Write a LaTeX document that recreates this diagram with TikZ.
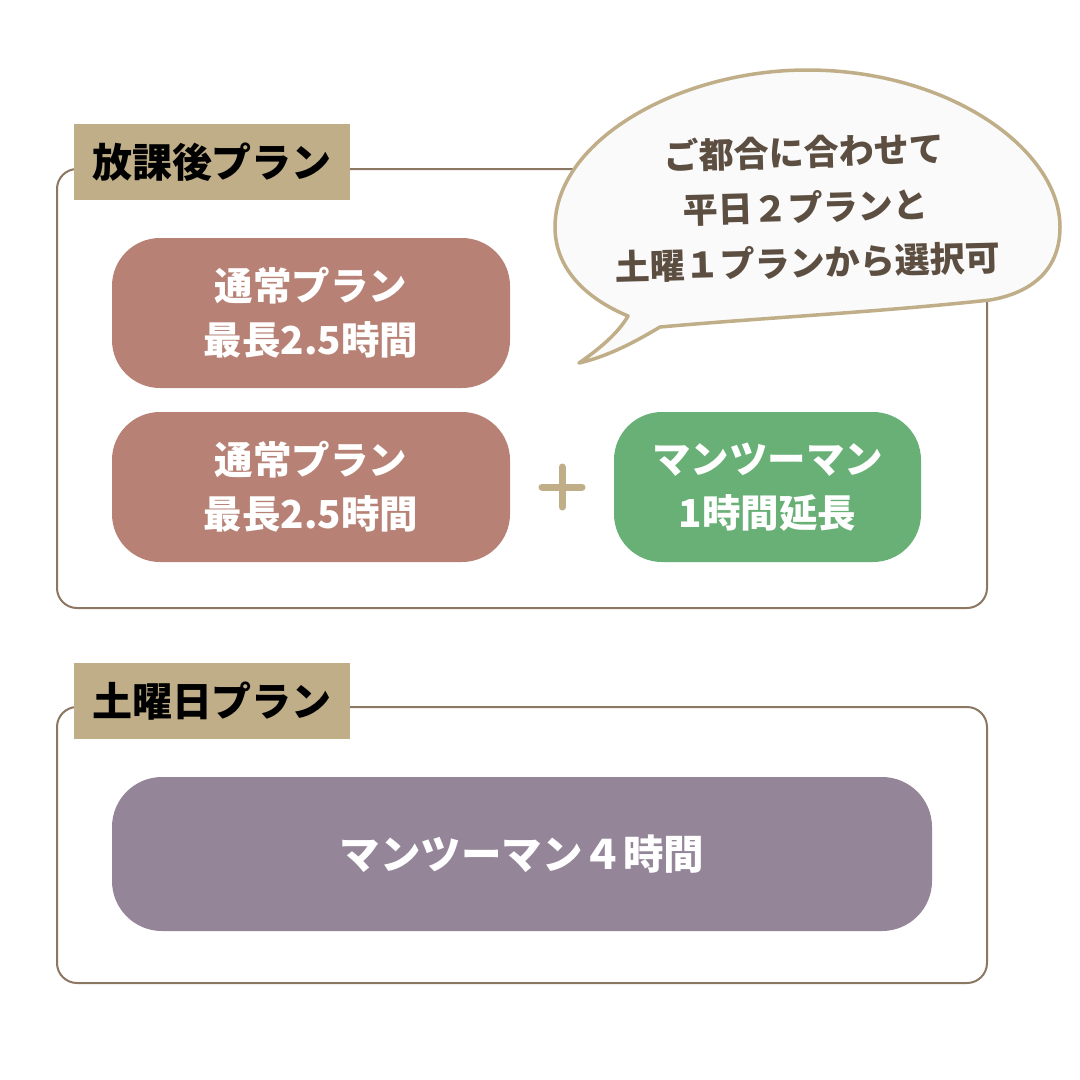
\documentclass[tikz,border=0pt]{standalone}
\usepackage{fontspec}
\setmainfont{Noto Sans CJK JP}
\definecolor{frame}{HTML}{8B7762}
\definecolor{tan}{HTML}{BFAE87}
\definecolor{rose}{HTML}{B78275}
\definecolor{leaf}{HTML}{69B077}
\definecolor{lilac}{HTML}{948599}
\definecolor{ink}{HTML}{5C4E41}
\definecolor{bubblefill}{HTML}{FAFAFA}
\tikzset{
  group/.style={draw=frame, line width=2pt, rounded corners=20pt, fill=white, minimum width=930pt, inner sep=0pt},
  tag/.style={fill=tan, minimum width=276pt, minimum height=76pt, inner sep=0pt, font=\fontsize{40}{48}\selectfont\bfseries, text=black},
  planbox/.style={rounded corners=48pt, inner sep=0pt, text=white, align=center, font=\fontsize{38.5}{54}\selectfont\bfseries},
  bubbletext/.style={text=ink, align=center, font=\fontsize{35}{55}\selectfont\bfseries}
}
\begin{document}
\begin{tikzpicture}[x=1pt,y=-1pt]
\useasboundingbox[fill=white] (0,0) rectangle (1080,1080);
% group 1
\node[group, minimum height=439pt] (g1) at (522,388.5) {};
\node[tag] (t1) at (212,162) {放課後プラン};
\node[planbox, fill=rose, minimum width=398pt, minimum height=150pt] (p1) at (311,313) {通常プラン\\最長2.5時間};
\node[planbox, fill=rose, minimum width=398pt, minimum height=150pt] (p2) at (311,487) {通常プラン\\最長2.5時間};
\node[planbox, fill=leaf, minimum width=307pt, minimum height=150pt] (p3) at (767.5,487) {マンツーマン\\1時間延長};
\coordinate (plus) at (562,487);
\draw[tan, line width=7pt, line cap=round] ([xshift=-20pt]plus) -- ([xshift=20pt]plus);
\draw[tan, line width=7pt, line cap=round] ([yshift=-20pt]plus) -- ([yshift=20pt]plus);
% speech bubble
\draw[draw=tan, fill=bubblefill, line width=3.5pt, line join=round]
  (579,363) .. controls (605,345) and (620,330) .. (628,316)
  .. controls (585,298) and (555,268) .. (555,227)
  .. controls (555,140) and (680,70) .. (807,70)
  .. controls (950,70) and (1060,150) .. (1060,227)
  .. controls (1060,275) and (1025,294) .. (990,300)
  .. controls (880,312) and (760,318) .. (660,327)
  .. controls (630,345) and (605,357) .. (579,363) -- cycle;
\node[bubbletext, rotate=1.5] (bt) at (806,207) {ご都合に合わせて\\平日２プランと\\土曜１プランから選択可};
% group 2
\node[group, minimum height=276pt] (g2) at (522,845) {};
\node[tag] (t2) at (212,701) {土曜日プラン};
\node[planbox, fill=lilac, minimum width=820pt, minimum height=154pt, rounded corners=50pt, font=\fontsize{40.5}{54}\selectfont\bfseries] (p4) at (522,854) {マンツーマン４時間};
\end{tikzpicture}
\end{document}
